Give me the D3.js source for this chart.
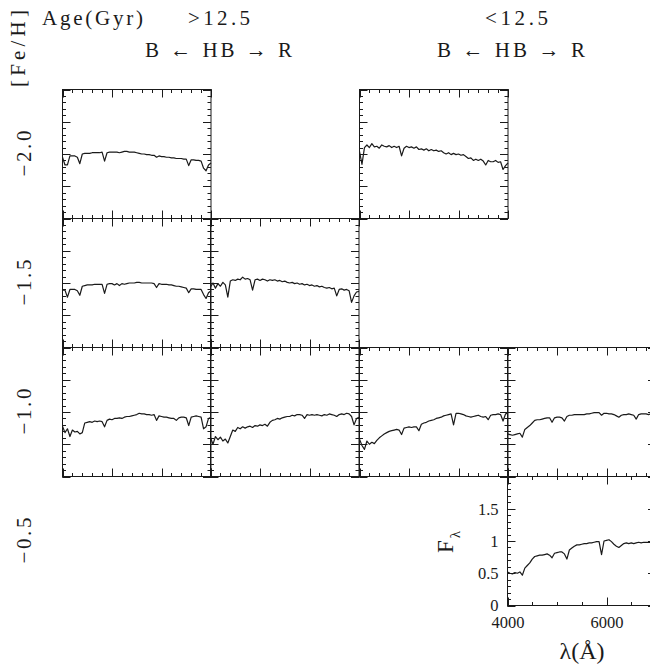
<!DOCTYPE html>
<html>
<head>
<meta charset="utf-8">
<script src="https://cdn.jsdelivr.net/npm/d3@7"></script>
<style>
  body { margin: 0; background: #fff; }
  svg { display: block; }
  text { font-family: "Liberation Serif", serif; fill: #1a1a1a; }
</style>
</head>
<body>
<div id="chart"></div>
<script>
// sampling grid of the spectra (Angstrom)
var wave = d3.range(4000, 7001, 50);

var fehLabels = ['\u22122.0', '\u22121.5', '\u22121.0', '\u22120.5'];
var ageLabels = ['>12.5', '<12.5'];
var hbLabel = 'B \u2190 HB \u2192 R';

var waveMinor = d3.range(4000, 7001, 200);
var waveMajor = [4000, 5000, 6000, 7000];
var waveMinorLab = d3.range(4000, 7001, 500);
var waveLabelTicks = [4000, 6000];
var fluxMinor = d3.range(0, 21).map(function (i) { return i / 10; });
var fluxMajor = [0, 0.5, 1, 1.5, 2];
var fluxLabelTicks = [0, 0.5, 1, 1.5];

// normalised flux, one value per grid wavelength
var spec_m20_old = [
  .95, .83, .83, .97, .97, .97, .95, .85, 1.00, 1.01,
  1.01, 1.01, 1.02, 1.02, 1.02, 1.02, 1.03, .89, 1.02, 1.03,
  1.03, 1.03, 1.03, 1.02, 1.03, 1.04, 1.04, 1.03, 1.03, 1.03,
  1.02, 1.01, 1.00, 1.00, .99, .99, .98, .98, .95, .97,
  .96, .96, .95, .95, .94, .94, .93, .93, .93, .92,
  .92, .82, .91, .91, .90, .90, .89, .78, .74, .83,
  .86];
var spec_m20_young = [
  1.04, .84, 1.10, 1.14, 1.10, 1.16, 1.11, 1.12, 1.09, 1.14,
  1.12, 1.11, 1.13, 1.10, 1.12, 1.10, 1.12, .97, 1.09, 1.12,
  1.10, 1.11, 1.09, 1.11, 1.07, 1.08, 1.06, 1.08, 1.05, 1.07,
  1.05, 1.06, 1.04, 1.05, 1.02, 1.00, 1.02, .99, 1.01, .99,
  1.00, .98, .99, .96, .93, .94, .90, .92, .90, .92,
  .89, .83, .90, .88, .88, .90, .87, .88, .76, .82,
  .86];
var spec_m15_blue = [
  .89, .89, .78, .90, .90, .90, .88, .81, .95, .96,
  .97, .97, .97, .98, .98, .98, .98, .84, .98, .99,
  .99, .97, .99, .96, .99, .98, .99, 1.00, 1.00, 1.00,
  1.01, 1.01, 1.00, 1.00, 1.00, 1.00, 1.00, .99, .93, .99,
  .98, .98, .98, .97, .97, .96, .95, .95, .94, .93,
  .92, .85, .91, .91, .90, .90, .90, .82, .76, .85,
  .88];
var spec_m15_red = [
  .94, 1.00, .92, .99, .95, 1.01, .97, .78, 1.03, 1.05,
  1.04, 1.06, 1.05, 1.09, 1.06, 1.07, 1.05, .89, 1.05, 1.06,
  1.04, 1.06, 1.05, 1.03, 1.05, 1.04, 1.05, 1.03, 1.04, 1.02,
  1.03, 1.01, 1.00, 1.01, .99, 1.00, .98, .99, .97, .98,
  .96, .97, .95, .96, .94, .95, .93, .92, .93, .91,
  .92, .80, .90, .91, .89, .90, .88, .70, .80, .86,
  .87];
var spec_m10_old_b = [
  .78, .68, .74, .62, .72, .69, .70, .66, .68, .83,
  .84, .85, .84, .86, .85, .86, .85, .77, .87, .89,
  .88, .90, .90, .91, .90, .92, .93, .93, .94, .95,
  .96, .98, .97, .97, .96, .96, .95, .96, .87, .94,
  .93, .92, .92, .91, .90, .90, .87, .91, .92, .92,
  .91, .79, .92, .93, .94, .93, .92, .74, .77, .90,
  .92];
var spec_m10_old_r = [
  .60, .50, .62, .57, .61, .55, .58, .52, .62, .72,
  .70, .76, .74, .77, .75, .77, .78, .76, .79, .78,
  .80, .79, .81, .78, .84, .87, .88, .90, .89, .91,
  .92, .93, .93, .95, .94, .96, .96, .95, .90, .96,
  .95, .96, .95, .96, .95, .94, .96, .95, .97, .96,
  .95, .93, .96, .97, .96, .98, .97, .93, .80, .90,
  .92];
var spec_m10_young_b = [
  .58, .48, .42, .55, .50, .53, .51, .56, .60, .63,
  .66, .68, .70, .71, .72, .73, .72, .65, .75, .76,
  .77, .76, .77, .77, .71, .81, .83, .84, .86, .87,
  .88, .90, .91, .92, .94, .95, .96, .97, .80, .98,
  .98, .97, .96, .94, .93, .92, .93, .94, .95, .93,
  .92, .93, .88, .95, .96, .96, .97, .96, .86, .97,
  .98];
var spec_m10_young_r = [
  .66, .65, .64, .65, .66, .67, .61, .73, .76, .79,
  .83, .87, .88, .88, .89, .90, .91, .91, .84, .91,
  .92, .92, .91, .86, .93, .95, .95, .96, .96, .96,
  .96, .96, .97, .97, .98, .99, .99, .99, .95, .98,
  .98, .97, .97, .96, .94, .92, .95, .96, .96, .97,
  .96, .95, .89, .96, .97, .97, .97, .96, .97, .97,
  .97];
var spec_m05_young = [
  .52, .50, .49, .51, .50, .52, .47, .58, .62, .66,
  .72, .76, .77, .78, .78, .79, .80, .78, .74, .81,
  .82, .83, .83, .80, .72, .86, .89, .92, .94, .94,
  .95, .96, .96, .97, .97, .98, .99, .99, .79, 1.00,
  1.01, 1.02, .99, .95, .92, .90, .93, .96, .97, .96,
  .97, .96, .97, .98, .97, .98, .98, .98, .98, .97,
  .97];

var panels = [
  { row: 0, col: 0, flux: spec_m20_old },
  { row: 0, col: 2, flux: spec_m20_young },
  { row: 1, col: 0, flux: spec_m15_blue },
  { row: 1, col: 1, flux: spec_m15_red },
  { row: 2, col: 0, flux: spec_m10_old_b },
  { row: 2, col: 1, flux: spec_m10_old_r },
  { row: 2, col: 2, flux: spec_m10_young_b },
  { row: 2, col: 3, flux: spec_m10_young_r },
  { row: 3, col: 3, flux: spec_m05_young, labeled: true }
];

var W = 650, H = 666;
var left0 = 61.5, top0 = 89;
var pw = 148.5, ph = 129;
var ink = '#1a1a1a';
var minorLen = 3.5, majorLen = 8;

var svg = d3.select('#chart').append('svg')
  .attr('width', W)
  .attr('height', H);

// header
function addLabel(txt, x, y, size, len) {
  var t = svg.append('text')
    .attr('x', x).attr('y', y)
    .attr('font-size', size)
    .text(txt);
  if (len) t.attr('textLength', len).attr('lengthAdjust', 'spacing');
  return t;
}
addLabel('Age(Gyr)', 42, 25, 21, 101);
addLabel(ageLabels[0], 188, 25, 21, 62);
addLabel(ageLabels[1], 485, 25, 21, 63);
addLabel(hbLabel, 145, 57, 21, 147);
addLabel(hbLabel, 437, 57, 21, 148);

svg.append('text')
  .attr('transform', 'translate(25,87) rotate(-90)')
  .attr('font-size', 21)
  .attr('textLength', 77).attr('lengthAdjust', 'spacing')
  .text('[Fe/H]');

svg.selectAll('.feh')
  .data(fehLabels)
  .enter()
  .append('text')
  .attr('class', 'feh')
  .attr('transform', function (d, i) {
    return 'translate(31,' + (top0 + ph * i + ph / 2) + ') rotate(-90)';
  })
  .attr('text-anchor', 'middle')
  .attr('font-size', 21)
  .attr('textLength', 46).attr('lengthAdjust', 'spacing')
  .text(function (d) { return d; });

// inward tick marks on one side of a panel, as a single path
function ticks(g, vals, scale, side, x0, y0, len) {
  var d = vals.map(function (v) {
    var s = Math.round(scale(v)) + 0.5;
    if (side === 'top') return 'M' + s + ',' + y0 + 'v' + len;
    if (side === 'bottom') return 'M' + s + ',' + (y0 + ph) + 'v' + (-len);
    if (side === 'left') return 'M' + x0 + ',' + s + 'h' + len;
    return 'M' + (x0 + pw) + ',' + s + 'h' + (-len);
  }).join('');
  g.append('path')
    .attr('d', d)
    .attr('fill', 'none')
    .attr('stroke', ink)
    .attr('stroke-width', 1);
}

// tick labels via d3 axes (no tick lines)
function labelAxis(g, axis, tx, ty, vals, pad) {
  var a = g.append('g')
    .attr('transform', 'translate(' + tx + ',' + ty + ')')
    .call(axis.tickValues(vals).tickSize(0).tickPadding(pad)
      .tickFormat(function (v) { return String(v); }));
  a.select('.domain').remove();
  a.selectAll('line').remove();
  a.attr('font-family', null).attr('font-size', 16.5);
  a.selectAll('text').attr('fill', ink);
}

var specLine = d3.line();

panels.forEach(function (p) {
  var x0 = Math.round(left0 + pw * p.col) + 0.5;
  var y0 = Math.round(top0 + ph * p.row) + 0.5;
  var xs = d3.scaleLinear().domain([4000, 7000]).range([x0, x0 + pw]);
  var ys = d3.scaleLinear().domain([0, 2]).range([y0 + ph, y0]);
  var g = svg.append('g').attr('class', 'panel');

  g.append('rect')
    .attr('x', x0).attr('y', y0)
    .attr('width', pw).attr('height', ph)
    .attr('fill', 'none')
    .attr('stroke', ink)
    .attr('stroke-width', 1);

  var xMinor = p.labeled ? waveMinorLab : waveMinor;
  var xMajor = p.labeled ? waveLabelTicks : waveMajor;

  ['top', 'bottom'].forEach(function (side) {
    ticks(g, xMinor, xs, side, x0, y0, minorLen);
    ticks(g, xMajor, xs, side, x0, y0, majorLen);
  });
  ['left', 'right'].forEach(function (side) {
    ticks(g, fluxMinor, ys, side, x0, y0, minorLen);
    ticks(g, fluxMajor, ys, side, x0, y0, majorLen);
  });

  if (p.labeled) {
    labelAxis(g, d3.axisBottom(xs), 0, y0 + ph, waveLabelTicks, 11);
    labelAxis(g, d3.axisLeft(ys), x0, 0, fluxLabelTicks, 9);
  }

  g.append('path')
    .datum(p.flux.map(function (f, i) { return [xs(wave[i]), ys(f)]; }))
    .attr('d', specLine)
    .attr('fill', 'none')
    .attr('stroke', ink)
    .attr('stroke-width', 1.2)
    .attr('stroke-linejoin', 'round');
});

// axis titles of the labelled panel
var fl = svg.append('text')
  .attr('transform', 'translate(453,553) rotate(-90)')
  .attr('font-size', 23);
fl.append('tspan').text('F');
fl.append('tspan').attr('font-size', 15).attr('dy', 7).attr('dx', 2).text('\u03bb');

svg.append('text')
  .attr('x', 582).attr('y', 659)
  .attr('text-anchor', 'middle')
  .attr('font-size', 24)
  .text('\u03bb(\u00c5)');
</script>
</body>
</html>
